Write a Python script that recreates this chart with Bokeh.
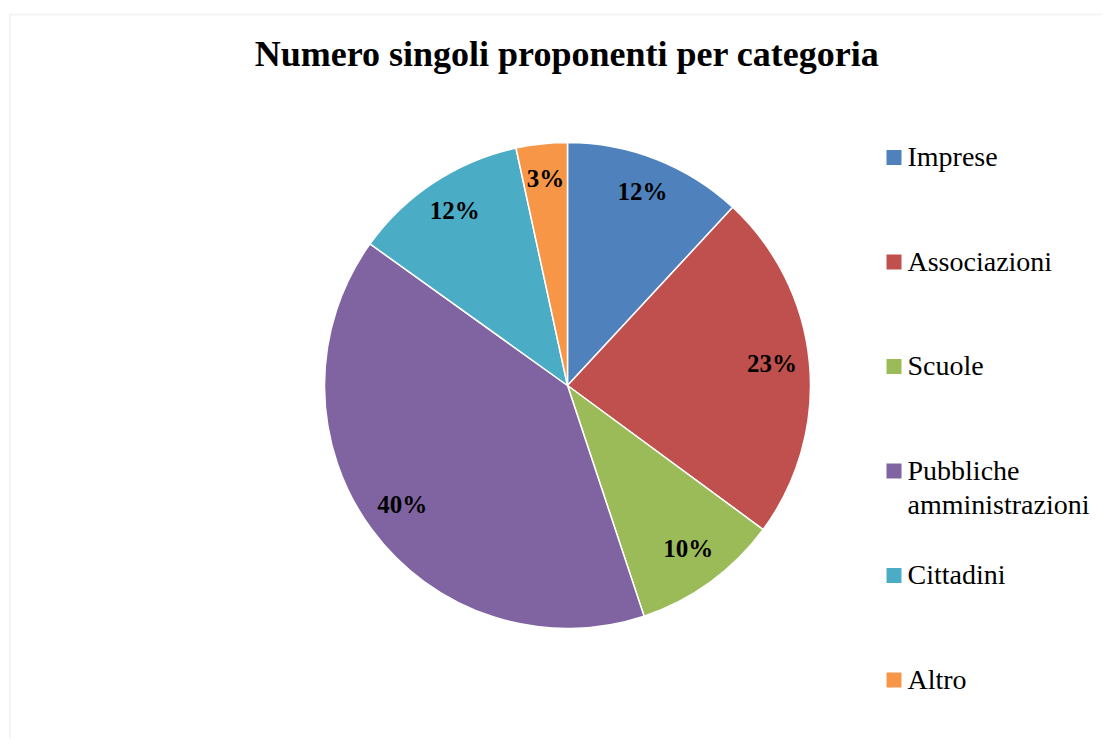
import math
from bokeh.plotting import figure
from bokeh.models import Range1d, ColumnDataSource, BoxAnnotation
from bokeh.core.properties import value
from bokeh.embed import file_html
from bokeh.resources import INLINE

# ---- data ----
categories = ["Imprese", "Associazioni", "Scuole", "Pubbliche\namministrazioni", "Cittadini", "Altro"]
shares = [11.9, 23.2, 9.8, 40.0, 11.7, 3.4]
colors = ["#4F81BD", "#C0504D", "#9BBB59", "#8064A2", "#4BACC6", "#F79646"]
title_text = "Numero singoli proponenti per categoria"

W, H = 1102, 738
FONT = "Liberation Serif"

p = figure(width=W, height=H, output_backend="svg", toolbar_location=None,
           x_range=Range1d(0, W), y_range=Range1d(0, H),
           x_axis_location=None, y_axis_location=None, min_border=0)
p.grid.visible = False
p.outline_line_color = None
p.background_fill_color = "white"
p.border_fill_color = "white"

def Y(page_y):
    return H - page_y

# chart area border (only left/top visible in window)
p.add_layout(BoxAnnotation(left=9.5, right=W + 200, top=Y(14), bottom=-200,
                           fill_alpha=0, line_color="#d9d9d9", line_width=2))

# ---- pie ----
cx, cy, r = 567, Y(385), 243
total = sum(shares)
starts, ends, lx, ly, labels = [], [], [], [], []
cum = 0.0
for s in shares:
    a0 = math.pi / 2 - 2 * math.pi * cum / total
    cum += s
    a1 = math.pi / 2 - 2 * math.pi * cum / total
    starts.append(a0)
    ends.append(a1)
    mid = (a0 + a1) / 2
    lr = 0.845 * r
    lx.append(cx + lr * math.cos(mid))
    ly.append(cy + lr * math.sin(mid) + 3)
    labels.append(f"{round(s / total * 100)}%")

src = ColumnDataSource(dict(start=starts, end=ends, color=colors, lx=lx, ly=ly, label=labels))
p.wedge(x=cx, y=cy, radius=r, start_angle="start", end_angle="end", direction="clock",
        fill_color="color", line_color="white", line_width=1.5, source=src)
p.text(x="lx", y="ly", text="label", source=src, text_align="center", text_baseline="middle",
       text_font=value(FONT), text_font_style="bold", text_font_size="25px", text_color="black")

# ---- title ----
p.text(x=[566.5], y=[Y(53)], text=[title_text], text_align="center", text_baseline="middle",
       text_font=value(FONT), text_font_style="bold", text_font_size="36px", text_color="black")

# ---- legend ----
sq_x, text_x = 893.5, 907
top_y, spacing, line_h = 157, 104.5, 34
sq_y, tx, ty, tt = [], [], [], []
for i, cat in enumerate(categories):
    yc = top_y + i * spacing
    sq_y.append(Y(yc))
    for k, line in enumerate(cat.split("\n")):
        tx.append(text_x)
        ty.append(Y(yc - 1 + k * line_h))
        tt.append(line)
p.scatter(x=[sq_x] * len(categories), y=sq_y, marker="square", size=15,
          fill_color=colors, line_color=None)
p.text(x=tx, y=ty, text=tt, text_align="left", text_baseline="middle",
       text_font=value(FONT), text_font_size="28px", text_color="black")

open("out.html", "w").write(file_html(p, INLINE))
